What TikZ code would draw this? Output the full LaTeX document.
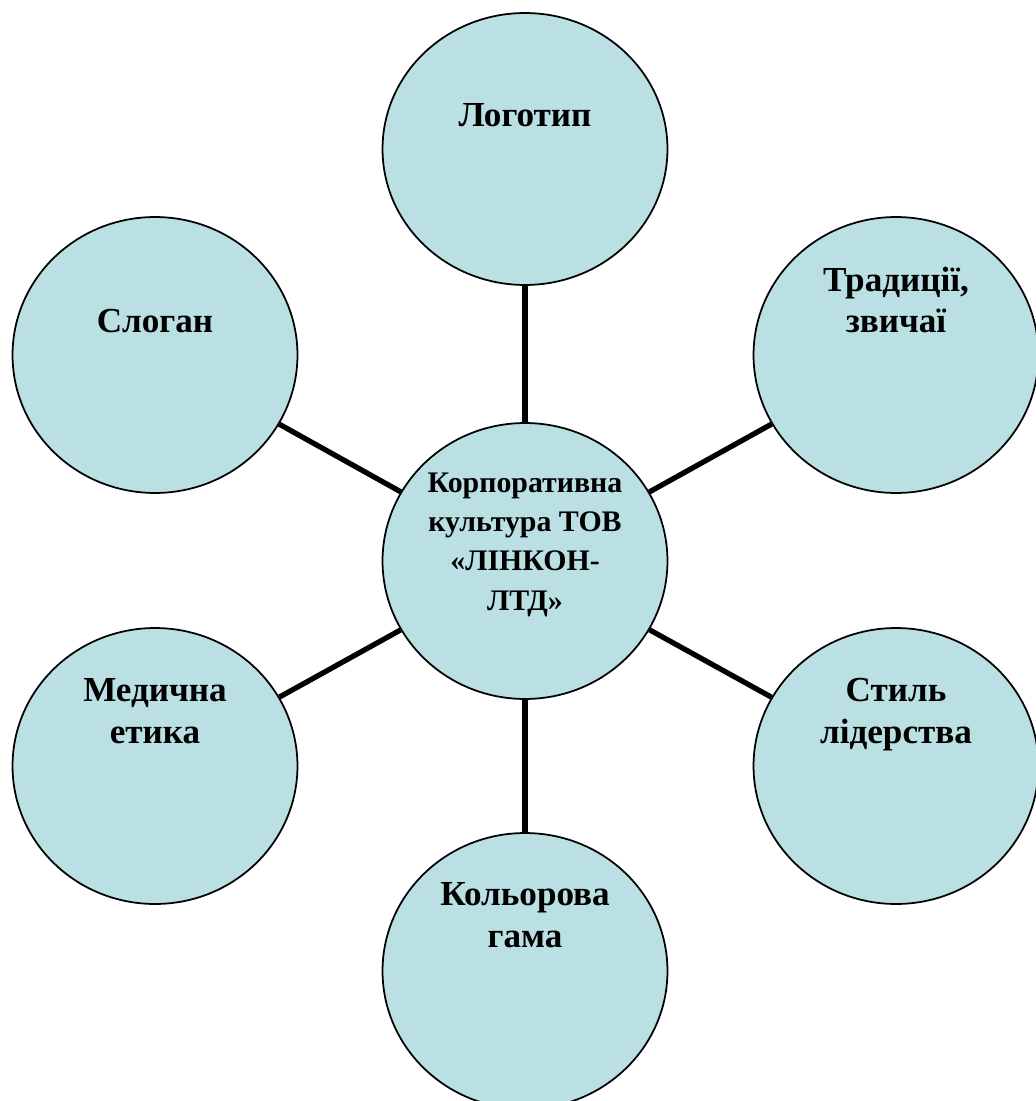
\documentclass[tikz,border=0pt]{standalone}
\usepackage{fontspec}
\setmainfont{Liberation Serif}
\usetikzlibrary{shapes.geometric}
\definecolor{kolofon}{RGB}{186,224,228}

\begin{document}
\begin{tikzpicture}[x=0.02cm, y=-0.02cm,
        kolo/.style={ellipse, draw, line width=1pt, fill=kolofon, minimum width=5.7cm, minimum height=5.52cm, inner sep=0pt},
        zvjazok/.style={line width=3pt},
        napys/.style={font=\bfseries\fontsize{20}{23.5}\selectfont, align=center, anchor=base, inner sep=0pt},
        napyscentr/.style={font=\bfseries\fontsize{17}{22.3}\selectfont, align=center, anchor=base, inner sep=0pt}]
        \useasboundingbox (0,0) rectangle (1035,1101);

        % Кола
        \node[kolo] (centr) at (525,561) {};
        \node[kolo, minimum height=5.44cm] (logo) at (525,149) {};
        \node[kolo] (slogan) at (155,355) {};
        \node[kolo] (tradycii) at (896,355) {};
        \node[kolo] (etyka) at (155,766) {};
        \node[kolo] (styl) at (896,766) {};
        \node[kolo] (gama) at (525,971) {};

        % Зв'язки
        \draw[zvjazok] (centr) -- (logo);
        \draw[zvjazok] (centr) -- (slogan);
        \draw[zvjazok] (centr) -- (tradycii);
        \draw[zvjazok] (centr) -- (etyka);
        \draw[zvjazok] (centr) -- (styl);
        \draw[zvjazok] (centr) -- (gama);

        % Написи (base = остання строка)
        \node[napyscentr] (centrtxt) at (525,610) {Корпоративна\\культура ТОВ\\«ЛІНКОН-\\ЛТД»};
        \node[napys] (logotxt) at (525,127) {Логотип};
        \node[napys] (slogantxt) at (155,333) {Слоган};
        \node[napys] (tradyciitxt) at (896,333) {Традиції,\\звичаї};
        \node[napys] (etykatxt) at (155,743) {Медична\\етика};
        \node[napys] (styltxt) at (896,743) {Стиль\\лідерства};
        \node[napys] (gamatxt) at (525,947) {Кольорова\\гама};
\end{tikzpicture}
\end{document}
